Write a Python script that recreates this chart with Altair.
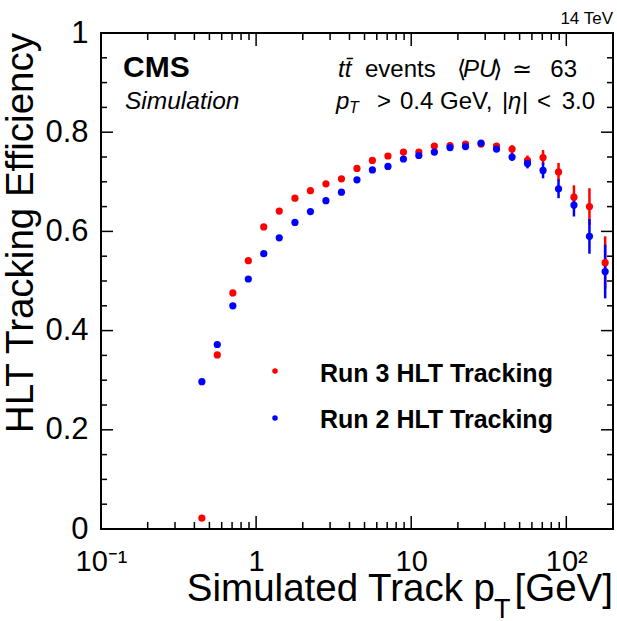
import altair as alt
import pandas as pd

# ---------------- data ----------------
pt = [0.447, 0.562, 0.708, 0.891, 1.12, 1.41, 1.78, 2.24, 2.82, 3.55, 4.47, 5.62, 7.08,
      8.91, 11.2, 14.1, 17.8, 22.4, 28.2, 35.5, 44.7, 56.2, 70.8, 89.1, 112, 141, 178]
run3_eff = [0.022, 0.351, 0.476, 0.541, 0.609, 0.641, 0.667, 0.682, 0.696, 0.706, 0.727,
            0.743, 0.752, 0.760, 0.760, 0.772, 0.773, 0.776, 0.776, 0.772, 0.766, 0.743,
            0.749, 0.720, 0.669, 0.650, 0.537]
run3_err = [0.001, 0.002, 0.002, 0.002, 0.002, 0.002, 0.002, 0.002, 0.002, 0.002, 0.002,
            0.002, 0.003, 0.003, 0.003, 0.003, 0.004, 0.004, 0.005, 0.006, 0.008, 0.010,
            0.015, 0.018, 0.024, 0.037, 0.053]
run2_eff = [0.297, 0.372, 0.450, 0.504, 0.555, 0.587, 0.618, 0.640, 0.662, 0.679, 0.704,
            0.724, 0.731, 0.746, 0.753, 0.760, 0.769, 0.771, 0.778, 0.766, 0.750, 0.737,
            0.723, 0.686, 0.653, 0.590, 0.519]
run2_err = [0.001, 0.002, 0.002, 0.002, 0.002, 0.002, 0.002, 0.002, 0.002, 0.002, 0.002,
            0.002, 0.003, 0.003, 0.003, 0.003, 0.004, 0.004, 0.005, 0.006, 0.008, 0.010,
            0.016, 0.019, 0.023, 0.035, 0.054]

series_names = ["Run 3 HLT Tracking", "Run 2 HLT Tracking"]
series_colors = ["#ff0000", "#0000ff"]

x_major = [0.1, 1, 10, 100]
x_minor = [0.2, 0.3, 0.4, 0.5, 0.6, 0.7, 0.8, 0.9,
           2, 3, 4, 5, 6, 7, 8, 9,
           20, 30, 40, 50, 60, 70, 80, 90]
y_major = [0, 0.2, 0.4, 0.6, 0.8, 1.0]
y_minor = [0.05, 0.1, 0.15, 0.25, 0.3, 0.35, 0.45, 0.5, 0.55,
           0.65, 0.7, 0.75, 0.85, 0.9, 0.95]

y_title = "HLT Tracking Efficiency"
x_title = ["Simulated Track p", "T", "[GeV]"]
energy_label = "14 TeV"
cms_label = ["CMS", "Simulation"]
line1 = ["tt\u0304", "events", "\u27e8", "PU", "\u27e9", "\u2243", "63"]
line2 = ["p", "T", ">", "0.4 GeV,", "|", "\u03b7", "|", "<", "3.0"]

# ---------------- layout ----------------
W, H = 512, 496
FONT = "Liberation Sans"

rows = []
for name, effs, errs in [(series_names[0], run3_eff, run3_err),
                         (series_names[1], run2_eff, run2_err)]:
    for p, e, s in zip(pt, effs, errs):
        rows.append({"pt": p, "eff": e, "lo": e - s, "hi": e + s, "series": name})
df = pd.DataFrame(rows)

xscale = alt.Scale(type="log", domain=[0.1, 200], nice=False)
yscale = alt.Scale(domain=[0, 1], nice=False)

xaxis = alt.Axis(values=x_major, title=None, grid=False, ticks=False, tickSize=0, domain=False,
                 labelExpr="datum.value < 0.5 ? '10\u207b\u00b9' : (datum.value > 50 ? '10\u00b2' : format(datum.value, 'd'))",
                 labelFont=FONT, labelFontSize=29, labelPadding=18, labelColor="black",
                 labelFlush=False, labelOverlap=False)
yaxis = alt.Axis(values=y_major, title=None, grid=False, ticks=False, tickSize=0, domain=False,
                 format="~g", labelFont=FONT, labelFontSize=31, labelPadding=13,
                 labelColor="black", labelFlush=False, labelOverlap=False)

color = alt.Color("series:N", scale=alt.Scale(domain=series_names, range=series_colors),
                  legend=None)

errors = alt.Chart(df).mark_rule(strokeWidth=2.5).encode(
    x=alt.X("pt:Q", scale=xscale, axis=xaxis),
    y=alt.Y("lo:Q", scale=yscale, axis=yaxis),
    y2="hi:Q",
    color=color,
)
points = alt.Chart(df).mark_circle(size=52, opacity=1).encode(
    x=alt.X("pt:Q", scale=xscale, axis=xaxis),
    y=alt.Y("eff:Q", scale=yscale, axis=yaxis),
    color=color,
)


def xticks(vals, length, top):
    return alt.Chart(pd.DataFrame({"v": vals})).mark_rule(color="black", strokeWidth=1.5).encode(
        x=alt.X("v:Q", scale=xscale, axis=xaxis),
        y=alt.value(0 if top else H),
        y2=alt.value(length if top else H - length),
    )


def yticks(vals, length, right):
    return alt.Chart(pd.DataFrame({"v": vals})).mark_rule(color="black", strokeWidth=1.5).encode(
        y=alt.Y("v:Q", scale=yscale, axis=yaxis),
        x=alt.value(W if right else 0),
        x2=alt.value(W - length if right else length),
    )


def label(s, x, y, size, weight="normal", style="normal", align="left", angle=0):
    return alt.Chart(pd.DataFrame({"t": [s]})).mark_text(
        font=FONT, fontSize=size, fontWeight=weight, fontStyle=style, align=align,
        baseline="alphabetic", angle=angle, color="black",
    ).encode(text="t:N", x=alt.value(x), y=alt.value(y))


def dot(c, x, y):
    return alt.Chart(pd.DataFrame({"t": [c]})).mark_circle(size=30, opacity=1, color=c).encode(
        x=alt.value(x), y=alt.value(y))


layers = [
    xticks(x_major, 13, False), xticks(x_minor, 7, False),
    xticks(x_major, 13, True), xticks(x_minor, 7, True),
    yticks(y_major, 12, False), yticks(y_minor, 6, False),
    yticks(y_major, 12, True), yticks(y_minor, 6, True),
    errors, points,
    # legend
    dot(series_colors[0], 174, 338), label(series_names[0], 219, 349, 25, weight="bold"),
    dot(series_colors[1], 174, 385), label(series_names[1], 219, 395, 25, weight="bold"),
    # axis titles
    label(y_title, -68, 0, 38.5, align="right", angle=270),
    label(x_title[0], 394, 568, 38.5, align="right"),
    label(x_title[1], 393, 585, 27),
    label(x_title[2], 512, 568, 38.5, align="right"),
    # header texts
    label(energy_label, 512, -9, 17, align="right"),
    label(cms_label[0], 22, 44, 30, weight="bold"),
    label(cms_label[1], 24, 76, 24.5, style="italic"),
    # line 1
    label(line1[0], 237, 44, 24, style="italic"),
    label(line1[1], 264, 44, 24),
    label(line1[2], 356, 44, 24),
    label(line1[3], 362, 44, 24, style="italic"),
    label(line1[4], 392, 44, 24),
    label(line1[5], 411, 44, 24),
    label(line1[6], 476, 44, 24, align="right"),
    # line 2
    label(line2[0], 235, 76, 24, style="italic"),
    label(line2[1], 248, 80, 16, style="italic"),
    label(line2[2], 276, 76, 24),
    label(line2[3], 299, 76, 24),
    label(line2[4], 401, 76, 24),
    label(line2[5], 407, 76, 24, style="italic"),
    label(line2[6], 421, 76, 24),
    label(line2[7], 436, 76, 24),
    label(line2[8], 494, 76, 24, align="right"),
]

chart = alt.layer(*layers).properties(
    width=W, height=H,
    padding={"left": 101, "top": 33, "right": 4, "bottom": 92},
    autosize=alt.AutoSizeParams(type="none"),
).configure_view(stroke="black", strokeWidth=2)

chart.save("out.html", embed_options={"renderer": "svg", "actions": False})
